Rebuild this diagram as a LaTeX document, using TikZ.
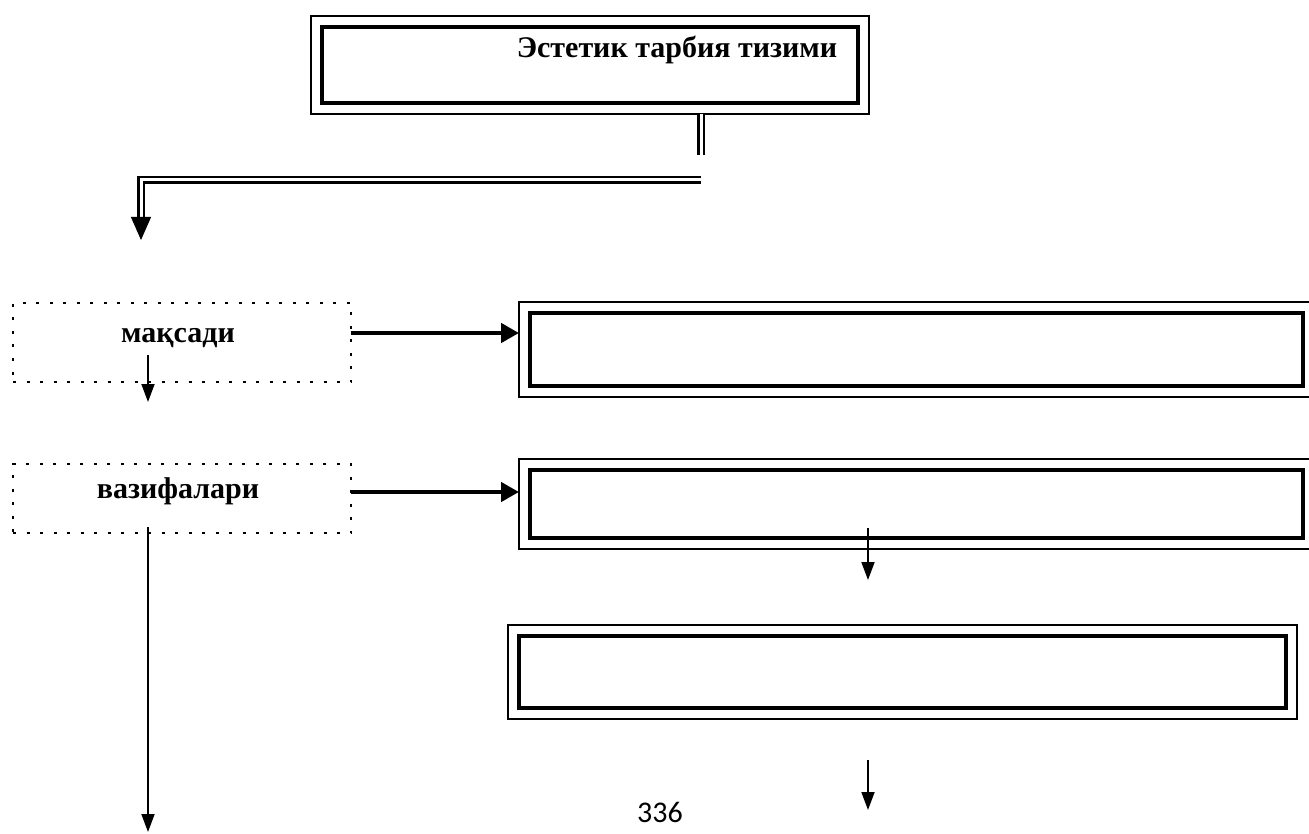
\documentclass[tikz,border=0pt]{standalone}
\usepackage{fontspec}
\setmainfont{Liberation Serif}
\newfontfamily\pagefont{Carlito}
\usetikzlibrary{arrows.meta}

\begin{document}
\begin{tikzpicture}[x=1pt,y=-1pt,
    framebox/.style={draw,line width=2pt,inner sep=0pt,outer sep=0pt,
        path picture={\draw[line width=4.5pt]
            ([shift={(11pt,-11pt)}]path picture bounding box.north west) rectangle
            ([shift={(-11pt,11pt)}]path picture bounding box.south east);}},
    dotbox/.style={draw,line width=2pt,dash pattern=on 3pt off 10.5pt,
        inner sep=0pt,outer sep=0pt,minimum width=338pt},
    boldtext/.style={font=\bfseries\fontsize{30}{34}\selectfont},
    dbl/.style={double,double distance=3pt,line width=2.4pt},
    bigarrow/.style={-{Triangle[length=23pt,width=20pt]},line width=1pt},
    fatarrow/.style={-{Triangle[length=18pt,width=19pt]},line width=4.5pt},
    thinarrow/.style={-{Triangle[length=18pt,width=13pt]},line width=1.8pt}]
    \useasboundingbox (0,0) rectangle (1309,834);

    % title
    \node[framebox,minimum width=558pt,minimum height=98pt] (title) at (590,65) {};
    \node[boldtext] (titletext) at (677,50) {Эстетик тарбия тизими};

    % left column
    \node[dotbox,minimum height=79pt] (aim) at (182,342.5) {};
    \node[boldtext] (aimtext) at (178,338) {мақсади};
    \node[dotbox,minimum height=69pt] (tasks) at (182,498.5) {};
    \node[boldtext] (taskstext) at (178,491) {вазифалари};

    % right column
    \node[framebox,minimum width=795pt,minimum height=95pt] (box1) at (916.5,349.5) {};
    \node[framebox,minimum width=795pt,minimum height=90pt] (box2) at (916.5,504) {};
    \node[framebox,minimum width=789pt,minimum height=94pt] (box3) at (902.5,672) {};

    \node[font=\pagefont\fontsize{30}{34}\selectfont] (page) at (660,812) {336};

    % connectors
    \coordinate (split) at (701,155);
    \coordinate (barR) at (701,180);
    \coordinate (barL) at (141,180);
    \coordinate (drop) at (141,217);
    \coordinate (droptip) at (141,240);
    \coordinate (tasksend) at (148,832);
    \draw[dbl] (title.south -| split) -- (split);
    \draw[dbl] (barR) -- (barL) -- (drop);
    \draw[bigarrow] (drop) -- (droptip);

    \draw[fatarrow] ([yshift=9.5pt]aim.east) -- ([yshift=9.5pt]aim.east -| box1.west);
    \draw[fatarrow] ([yshift=6.5pt]tasks.east) -- ([yshift=6.5pt]tasks.east -| box2.west);
    \draw[thinarrow] ([shift={(-34pt,-12.5pt)}]aim.center) -- ([shift={(-34pt,-20pt)}]aim.south);
    \draw[thinarrow] ([shift={(-34pt,6pt)}]tasks.south) -- (tasksend);
    \draw[thinarrow] ([shift={(-48.5pt,21pt)}]box2.south) -- ([shift={(-48.5pt,-31pt)}]box2.south);
    \draw[thinarrow] ([shift={(-34.5pt,-41pt)}]box3.south) -- ([shift={(-34.5pt,-91pt)}]box3.south);
\end{tikzpicture}
\end{document}
